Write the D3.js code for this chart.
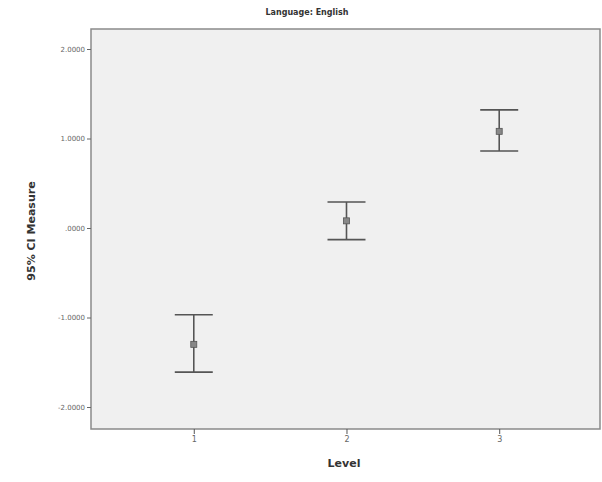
<!DOCTYPE html>
<html>
<head>
<meta charset="utf-8">
<script src="https://cdn.jsdelivr.net/npm/d3@7"></script>
<style>
html,body{margin:0;padding:0;background:#fff;}
svg{display:block;}
</style>
</head>
<body>
<svg id="chart" width="602" height="482"></svg>
<script>
const title = "Language: English";
const xLabel = "Level";
const yLabel = "95% CI Measure";
const levels = [1, 2, 3];
const means = [-1.30, 0.08, 1.08];
const lower = [-1.61, -0.13, 0.86];
const upper = [-0.97, 0.29, 1.32];
const yTicks = [-2, -1, 0, 1, 2];
const yTickLabels = ["-2.0000", "-1.0000", ".0000", "1.0000", "2.0000"];

const svg = d3.select("#chart");
const pLeft = 91, pRight = 600, pTop = 29, pBottom = 429;

const x = d3.scaleLinear().domain([0.327, 3.66]).range([pLeft, pRight]);
const y = d3.scaleLinear()
  .domain([-2.0 - (pBottom - 407) / 89.5, 2.0 + (49 - pTop) / 89.5])
  .range([pBottom, pTop]);

svg.append("rect")
  .attr("x", pLeft).attr("y", pTop)
  .attr("width", pRight - pLeft).attr("height", pBottom - pTop)
  .attr("fill", "#f0f0f0")
  .attr("stroke", "#8a8a8a").attr("stroke-width", 1.5);

const yAxis = d3.axisLeft(y).tickValues(yTicks)
  .tickFormat((d, i) => yTickLabels[i]).tickSize(4).tickPadding(2);
const gy = svg.append("g").attr("transform", `translate(${pLeft},0)`).call(yAxis);
gy.select(".domain").remove();
gy.selectAll(".tick line").attr("stroke", "#666");
gy.selectAll(".tick text").attr("fill", "#666")
  .style("font-family", "DejaVu Sans, sans-serif").style("font-size", "7px");

const xAxis = d3.axisBottom(x).tickValues(levels).tickFormat(d3.format("d")).tickSize(5).tickPadding(2);
const gx = svg.append("g").attr("transform", `translate(0,${pBottom})`).call(xAxis);
gx.select(".domain").remove();
gx.selectAll(".tick line").attr("stroke", "#555");
gx.selectAll(".tick text").attr("fill", "#666")
  .style("font-family", "DejaVu Sans, sans-serif").style("font-size", "8px");

const capW = 19;
const g = svg.append("g").attr("stroke", "#555").attr("stroke-width", 1.6);
levels.forEach((lv, i) => {
  const cx = x(lv);
  g.append("line").attr("x1", cx).attr("x2", cx).attr("y1", y(upper[i])).attr("y2", y(lower[i]));
  g.append("line").attr("x1", cx - capW).attr("x2", cx + capW).attr("y1", y(upper[i])).attr("y2", y(upper[i]));
  g.append("line").attr("x1", cx - capW).attr("x2", cx + capW).attr("y1", y(lower[i])).attr("y2", y(lower[i]));
});
svg.append("g").selectAll("rect.m").data(levels).join("rect")
  .attr("x", d => x(d) - 3).attr("y", (d, i) => y(means[i]) - 3)
  .attr("width", 6).attr("height", 6)
  .attr("fill", "#888").attr("stroke", "#555").attr("stroke-width", 0.8);

svg.append("text").attr("x", 307).attr("y", 15).attr("text-anchor", "middle")
  .style("font-family", "DejaVu Sans, sans-serif").style("font-size", "8px").style("font-weight", "bold")
  .attr("fill", "#333").text(title);

svg.append("text").attr("x", 344).attr("y", 467).attr("text-anchor", "middle")
  .style("font-family", "DejaVu Sans, sans-serif").style("font-size", "11px").style("font-weight", "bold")
  .attr("fill", "#333").text(xLabel);

svg.append("text").attr("transform", "translate(35,231) rotate(-90)").attr("text-anchor", "middle")
  .style("font-family", "DejaVu Sans, sans-serif").style("font-size", "11px").style("font-weight", "bold")
  .attr("fill", "#333").text(yLabel);
</script>
</body>
</html>
